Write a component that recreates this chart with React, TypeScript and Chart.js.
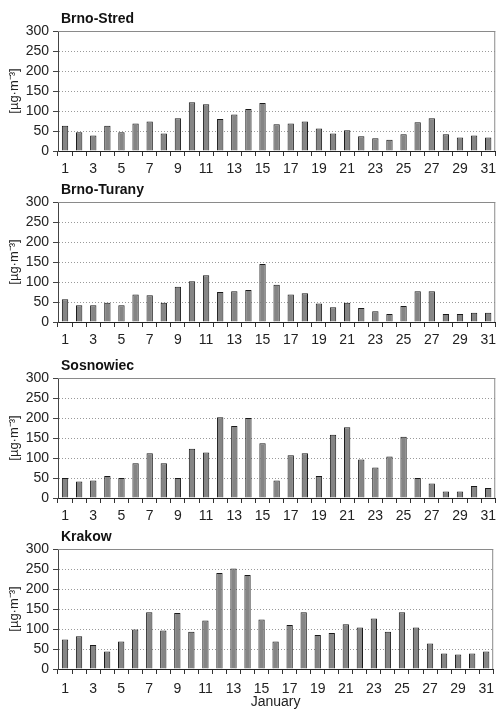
import React, { useEffect, useRef } from 'react';
import { Chart, registerables } from 'chart.js';

Chart.register(...registerables);

const days = ['1','2','3','4','5','6','7','8','9','10','11','12','13','14','15','16','17','18','19','20','21','22','23','24','25','26','27','28','29','30','31'];

const brnoStred = [63,47,39,63,47,69,74,44,82,122,117,80,91,105,120,67,69,74,56,44,52,37,32,28,42,72,82,42,34,39,34];
const brnoTurany = [57,42,42,48,42,69,67,48,88,102,117,75,77,80,145,93,69,72,46,37,48,35,27,20,40,77,77,20,20,23,23];
const sosnowiec = [50,41,44,55,50,87,112,87,50,123,114,202,180,200,137,44,107,112,55,158,177,96,76,104,153,50,36,16,16,30,25];
const krakow = [74,82,60,44,69,99,142,96,140,93,121,240,251,235,124,69,110,142,85,90,112,104,126,93,142,104,64,39,36,39,44];

const yTicks = [0, 50, 100, 150, 200, 250, 300];
const yUnit = '[µg·m⁻³]';
const xTitle = 'January';

const FONT = "'Liberation Sans', Arial, Helvetica, sans-serif";

type PanelProps = {
  title: string;
  data: number[];
  top: number;
  height: number;
  xHeight: number;
  tickPad: number;
  showXTitle: boolean;
};

const framePlugin = {
  id: 'frameAndTitle',
  afterDraw(chart: any, _args: any, opts: any) {
    const { ctx, chartArea } = chart;
    ctx.save();
    ctx.strokeStyle = '#8a8a8a';
    ctx.lineWidth = 1;
    ctx.beginPath();
    ctx.moveTo(chartArea.left, chartArea.top + 0.5);
    ctx.lineTo(chartArea.right, chartArea.top + 0.5);
    ctx.moveTo(chartArea.right - 0.5, chartArea.top);
    ctx.lineTo(chartArea.right - 0.5, chartArea.bottom);
    ctx.stroke();
    ctx.fillStyle = '#111';
    ctx.font = `bold 14px ${FONT}`;
    ctx.textBaseline = 'middle';
    ctx.textAlign = 'left';
    ctx.fillText(opts.text, chartArea.left + 3, chartArea.top - 12);
    ctx.restore();
  },
};

function Panel({ title, data, top, height, xHeight, tickPad, showXTitle }: PanelProps) {
  const ref = useRef<HTMLCanvasElement | null>(null);
  useEffect(() => {
    if (!ref.current) return;
    const chart = new Chart(ref.current, {
      type: 'bar',
      data: {
        labels: days,
        datasets: [
          {
            data,
            backgroundColor: '#858585',
            borderColor: '#1a1a1a',
            borderWidth: 1,
            barPercentage: 0.45,
            categoryPercentage: 1,
          },
        ],
      },
      plugins: [framePlugin],
      options: {
        animation: false,
        responsive: false,
        devicePixelRatio: 1,
        layout: { padding: { top: 26, left: 0, right: 1, bottom: 0 } },
        plugins: {
          legend: { display: false },
          tooltip: { enabled: false },
          frameAndTitle: { text: title },
        } as any,
        scales: {
          x: {
            offset: true,
            grid: {
              offset: true,
              drawOnChartArea: false,
              drawTicks: true,
              tickLength: 5,
              color: '#333',
            },
            border: { display: true, color: '#222', width: 1 },
            ticks: {
              autoSkip: false,
              maxRotation: 0,
              minRotation: 0,
              padding: tickPad,
              color: '#222',
              font: { family: FONT, size: 14 },
              callback: (_v: any, i: number) => (i % 2 === 0 ? days[i] : ''),
            },
            title: {
              display: showXTitle,
              text: xTitle,
              color: '#222',
              font: { family: FONT, size: 14 },
              padding: { top: 0, bottom: 1 },
            },
            afterFit: (s: any) => {
              s.height = xHeight;
            },
          },
          y: {
            min: 0,
            max: 300,
            afterBuildTicks: (s: any) => {
              s.ticks = yTicks.map((v) => ({ value: v }));
            },
            grid: {
              color: '#9a9a9a',
              lineWidth: 1,
              drawTicks: true,
              tickLength: 5,
              tickColor: '#444',
              tickBorderDash: [10, 0],
            },
            border: { display: true, color: '#444', width: 1, dash: [1, 2] },
            ticks: {
              padding: 4,
              color: '#222',
              font: { family: FONT, size: 14 },
            },
            title: {
              display: true,
              text: yUnit,
              color: '#222',
              font: { family: FONT, size: 13 },
              padding: { top: 7, bottom: 0 },
            },
            afterFit: (s: any) => {
              s.width = 58;
            },
          },
        },
      } as any,
    });
    return () => chart.destroy();
  }, [title, data, top, height, xHeight, tickPad, showXTitle]);
  return (
    <canvas
      ref={ref}
      width={501}
      height={height}
      style={{ position: 'absolute', left: 0, top, width: 501, height }}
    />
  );
}

export default function App() {
  return (
    <div
      style={{
        position: 'absolute',
        left: 0,
        top: 0,
        width: 501,
        height: 709,
        overflow: 'hidden',
        background: '#fff',
      }}
    >
      <Panel title="Brno-Stred" data={brnoStred} top={5} height={171} xHeight={25} tickPad={5} showXTitle={false} />
      <Panel title="Brno-Turany" data={brnoTurany} top={176} height={171} xHeight={25} tickPad={5} showXTitle={false} />
      <Panel title="Sosnowiec" data={sosnowiec} top={352} height={171} xHeight={25} tickPad={5} showXTitle={false} />
      <Panel title="Krakow" data={krakow} top={523} height={189} xHeight={43} tickPad={7} showXTitle={true} />
    </div>
  );
}
